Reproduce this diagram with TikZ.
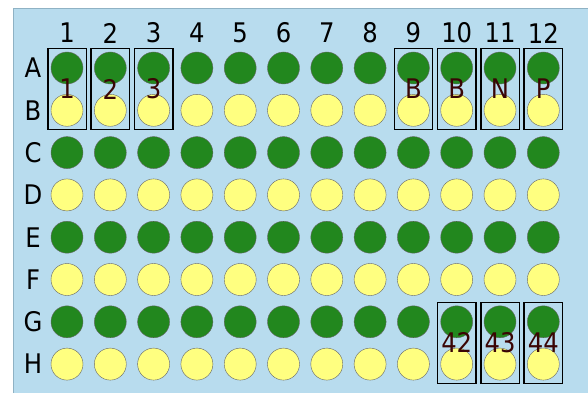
\documentclass[tikz,border=0pt]{standalone}
\usepackage{fontspec}
\setmainfont{DejaVu Sans Condensed}
\usepackage{xcolor}
\usetikzlibrary{fit}
\definecolor{plate}{HTML}{B8DCEE}
\definecolor{plateedge}{HTML}{8FB2C4}
\definecolor{wellgreen}{HTML}{22871E}
\definecolor{wellyellow}{HTML}{FFFF80}
\definecolor{tagred}{HTML}{3A0505}

\begin{document}
\begin{tikzpicture}[
  x=1pt,y=-1pt,
  font=\fontsize{27}{29}\selectfont,
  well/.style={circle,draw=gray!80!black,line width=0.4pt,minimum size=32pt,inner sep=0pt},
  wet/.style={well,fill=wellgreen},
  dry/.style={well,fill=wellyellow},
  grp/.style={draw,line width=1.4pt,inner sep=3pt},
  tag/.style={text=tagred,inner sep=0pt},
]
\useasboundingbox (0,0) rectangle (588,393);
% plate
\fill[plate] (13,8) rectangle (588,393);
\draw[plateedge,line width=0.8pt] (13,393) -- (13,8) -- (588,8);

% column and row headers
\foreach \c in {1,...,12}
  \node (col\c) at ({67+(\c-1)*43.3},33) {\c};
\foreach \r [count=\i from 0] in {A,B,C,D,E,F,G,H}
  \node (row\r) at (33,{68+\i*42.3}) {\r};

% wells
\foreach \r/\i in {A/0,C/2,E/4,G/6}
  \foreach \c in {1,...,12}
    \node[wet] (\r\c) at ({67+(\c-1)*43.3},{68+\i*42.3}) {};
\foreach \r/\i in {B/1,D/3,F/5,H/7}
  \foreach \c in {1,...,12}
    \node[dry] (\r\c) at ({67+(\c-1)*43.3},{68+\i*42.3}) {};

% sample groups
\foreach \c/\t in {1/1,2/2,3/3,9/B,10/B,11/N,12/P} {
  \node[grp,fit=(A\c)(B\c)] (grp\c) {};
  \node[tag] (tag\c) at (grp\c.center) {\t};
}
\foreach \c/\t in {10/42,11/43,12/44} {
  \node[grp,fit=(G\c)(H\c)] (grpG\c) {};
  \node[tag] (tagG\c) at (grpG\c.center) {\t};
}
\end{tikzpicture}
\end{document}
